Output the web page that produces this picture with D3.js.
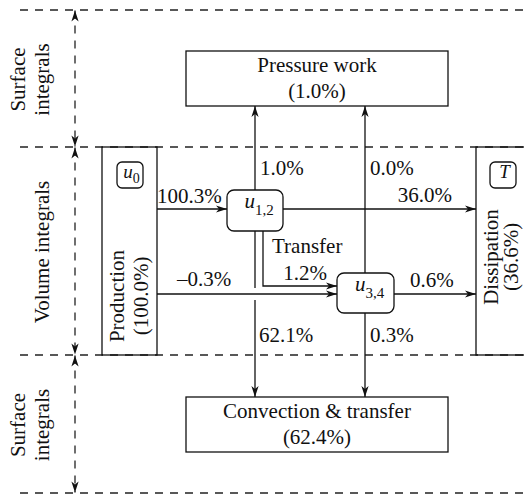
<!DOCTYPE html>
<html>
<head>
<meta charset="utf-8">
<script src="https://cdn.jsdelivr.net/npm/d3@7"></script>
<style>
  html, body { margin: 0; padding: 0; background: #fff; }
  text { font-family: 'Liberation Serif', 'DejaVu Serif', serif; fill: #111; }
</style>
</head>
<body>
<script>
// energy budget values (percent of production)
const bandLabels = [['Surface', 'integrals'], ['Volume integrals'], ['Surface', 'integrals']]
const sinkNames = ['Pressure work', 'Convection & transfer']
const sinkValues = [1.0, 62.4]
const sideNames = ['Production', 'Dissipation']
const sideValues = [100.0, 36.6]
const flowNames = ['prod-u12', 'u12-diss', 'prod-u34', 'u34-diss', 'u12-pres', 'u34-pres', 'u12-conv', 'u34-conv', 'transfer']
const flowValues = [100.3, 36.0, -0.3, 0.6, 1.0, 0.0, 62.1, 0.3, 1.2]

const size = { width: 524, height: 497 }
const x = d3.scaleLinear().domain([0, size.width]).range([0, size.width])
const y = d3.scaleLinear().domain([0, size.height]).range([0, size.height])
const fs = '21px'

const pct = v => d3.format('.1f')(v).replace('−', '–') + '%'

// layout
const bands = [10, 147, 355, 493]
const boxes = {
  pres: { x: 186, y: 51, w: 262, h: 55 },
  conv: { x: 186, y: 397, w: 262, h: 55 },
  prod: { x: 102, y: 147, w: 55, h: 208 },
  diss: { x: 476, y: 147, w: 70, h: 208 },
  u12: { x: 227, y: 190, w: 56, h: 41 },
  u34: { x: 337, y: 273, w: 57, h: 40 },
  u0: { x: 117, y: 162, w: 26, h: 26 },
  T: { x: 490, y: 162, w: 26, h: 26 }
}
const rowA = 209, rowB = 294, colA = 255, colB = 365, trX = 263, trY = 286
const B = boxes
const right = b => b.x + b.w, bottom = b => b.y + b.h

const flowPaths = {
  'prod-u12': [[[right(B.prod), rowA], [B.u12.x, rowA]]],
  'u12-diss': [[[right(B.u12), rowA], [B.diss.x, rowA]]],
  'prod-u34': [[[right(B.prod), rowB], [B.u34.x, rowB]]],
  'u34-diss': [[[right(B.u34), rowB], [B.diss.x, rowB]]],
  'u12-pres': [[[colA, B.u12.y], [colA, bottom(B.pres)]]],
  'u34-pres': [[[colB, B.u34.y], [colB, bottom(B.pres)]]],
  'u12-conv': [[[colA, bottom(B.u12)], [colA, rowB - 6]], [[colA, rowB + 6], [colA, B.conv.y]]],
  'u34-conv': [[[colB, bottom(B.u34)], [colB, B.conv.y]]],
  'transfer': [[[trX, bottom(B.u12)], [trX, trY], [B.u34.x, trY]]]
}
const flowLabelPos = {
  'prod-u12': [157, 203, 'start'],
  'u12-diss': [452, 202, 'end'],
  'prod-u34': [177, 286, 'start'],
  'u34-diss': [410, 287, 'start'],
  'u12-pres': [260, 175, 'start'],
  'u34-pres': [370, 175, 'start'],
  'u12-conv': [259, 342, 'start'],
  'u34-conv': [370, 342, 'start'],
  'transfer': [305, 280, 'middle']
}

let svg = d3.select('body')
  .append('svg')
  .attr('width', size.width)
  .attr('height', size.height)

svg.append('rect')
  .attr('width', size.width)
  .attr('height', size.height)
  .attr('fill', '#fff')

let defs = svg.append('defs')
defs.append('marker')
  .attr('id', 'head')
  .attr('viewBox', '-12 -5 13 10')
  .attr('refX', 0)
  .attr('refY', 0)
  .attr('markerUnits', 'userSpaceOnUse')
  .attr('markerWidth', 13)
  .attr('markerHeight', 10)
  .attr('orient', 'auto-start-reverse')
  .append('path')
  .attr('d', 'M0,0 L-11,-3.6 L-8,0 L-11,3.6 Z')
  .attr('fill', '#111')

// dashed band separators
svg.selectAll('line.band')
  .data(bands)
  .enter()
  .append('line')
  .attr('class', 'band')
  .attr('x1', x(20))
  .attr('x2', x(size.width))
  .attr('y1', d => y(d))
  .attr('y2', d => y(d))
  .attr('stroke', '#222')
  .attr('stroke-width', 1.3)
  .attr('stroke-dasharray', '8,7')

// double headed dashed arrows
svg.selectAll('line.span')
  .data(d3.pairs(bands))
  .enter()
  .append('line')
  .attr('x1', x(75))
  .attr('x2', x(75))
  .attr('y1', d => y(d[0]) + 0.5)
  .attr('y2', d => y(d[1]) - 0.5)
  .attr('stroke', '#222')
  .attr('stroke-width', 1.3)
  .attr('stroke-dasharray', '8,7')
  .attr('marker-start', 'url(#head)')
  .attr('marker-end', 'url(#head)')

// band labels
const bandLine = [[25, 49], [49], [25, 49]]
bandLabels.forEach((lines, i) => {
  let cy = (bands[i] + bands[i + 1]) / 2 + 1
  lines.forEach((t, j) => {
    svg.append('text')
      .attr('transform', 'translate(' + x(bandLine[i][j]) + ',' + y(cy) + ')rotate(-90)')
      .attr('text-anchor', 'middle')
      .style('font-size', fs)
      .text(t)
  })
})

// boxes
const plainBoxes = ['pres', 'conv', 'prod', 'diss']
svg.selectAll('rect.box')
  .data(plainBoxes)
  .enter()
  .append('rect')
  .attr('x', d => x(B[d].x))
  .attr('y', d => y(B[d].y))
  .attr('width', d => B[d].w)
  .attr('height', d => B[d].h)
  .attr('fill', 'none')
  .attr('stroke', '#111')
  .attr('stroke-width', 1.3)

const roundBoxes = ['u12', 'u34', 'u0', 'T']
svg.selectAll('rect.rbox')
  .data(roundBoxes)
  .enter()
  .append('rect')
  .attr('x', d => x(B[d].x))
  .attr('y', d => y(B[d].y))
  .attr('width', d => B[d].w)
  .attr('height', d => B[d].h)
  .attr('rx', d => B[d].w > 30 ? 7 : 5)
  .attr('fill', '#fff')
  .attr('stroke', '#111')
  .attr('stroke-width', 1.3)

// sink box texts
;['pres', 'conv'].forEach((k, i) => {
  let b = B[k]
  svg.append('text')
    .attr('x', x(b.x + b.w / 2))
    .attr('y', y(b.y + 21))
    .attr('text-anchor', 'middle')
    .style('font-size', fs)
    .text(sinkNames[i])
  svg.append('text')
    .attr('x', x(b.x + b.w / 2))
    .attr('y', y(b.y + 47))
    .attr('text-anchor', 'middle')
    .style('font-size', fs)
    .text('(' + pct(sinkValues[i]) + ')')
})

// side box texts (rotated)
const sideLayout = [{ cy: 296, xs: [124, 148] }, { cy: 257, xs: [498, 518] }]
sideNames.forEach((n, i) => {
  let s = sideLayout[i]
  ;[n, '(' + pct(sideValues[i]) + ')'].forEach((t, j) => {
    svg.append('text')
      .attr('transform', 'translate(' + x(s.xs[j]) + ',' + y(s.cy) + ')rotate(-90)')
      .attr('text-anchor', 'middle')
      .style('font-size', fs)
      .text(t)
  })
})

// node symbols
const symbols = { u12: ['u', '1,2'], u34: ['u', '3,4'], u0: ['u', '0'], T: ['T', ''] }
roundBoxes.forEach(k => {
  let b = B[k]
  let big = b.w > 30
  let t = svg.append('text')
    .attr('x', x(b.x + b.w / 2 + (big ? 4 : 1.5)))
    .attr('y', y(b.y + b.h / 2 + (big ? -2.5 : 3)))
    .attr('text-anchor', 'middle')
    .style('font-size', big ? '21px' : '19px')
  t.append('tspan')
    .style('font-style', 'italic')
    .text(symbols[k][0])
  if (symbols[k][1]) {
    t.append('tspan')
      .attr('dy', big ? 7 : 5)
      .style('font-size', big ? '15px' : '14px')
      .text(symbols[k][1])
  }
})

// flows
const line = d3.line().x(d => x(d[0])).y(d => y(d[1]))
flowNames.forEach((name, i) => {
  let parts = flowPaths[name]
  parts.forEach((pts, j) => {
    svg.append('path')
      .attr('d', line(pts))
      .attr('fill', 'none')
      .attr('stroke', '#111')
      .attr('stroke-width', 1.3)
      .attr('marker-end', j === parts.length - 1 ? 'url(#head)' : null)
  })
  let lp = flowLabelPos[name]
  svg.append('text')
    .attr('x', x(lp[0]))
    .attr('y', y(lp[1]))
    .attr('text-anchor', lp[2])
    .style('font-size', fs)
    .text(pct(flowValues[i]))
})

svg.append('text')
  .attr('x', x(272))
  .attr('y', y(253))
  .style('font-size', fs)
  .text('Transfer')
</script>
</body>
</html>
